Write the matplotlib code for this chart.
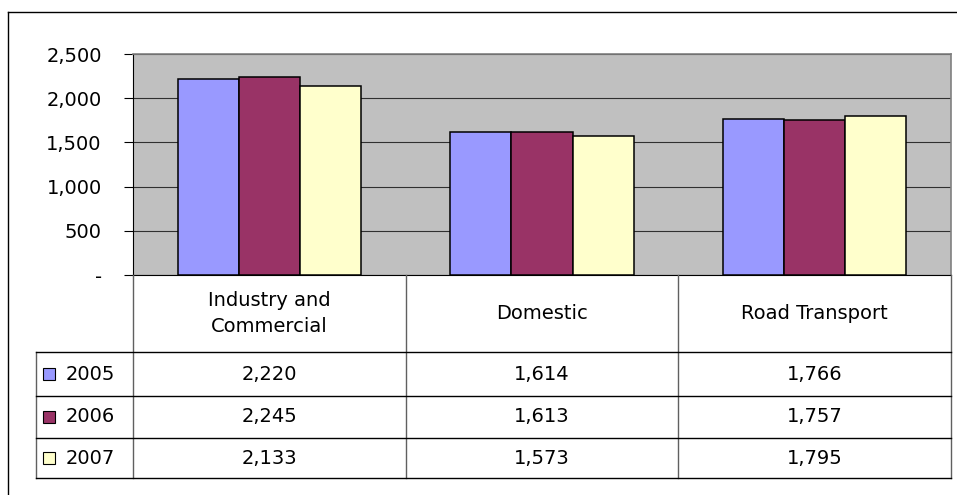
import matplotlib
matplotlib.use("Agg")
import matplotlib.pyplot as plt
from matplotlib.ticker import FuncFormatter
from matplotlib.patches import Rectangle

categories = ["Industry and\nCommercial", "Domestic", "Road Transport"]
years = ["2005", "2006", "2007"]
v2005 = [2220, 1614, 1766]
v2006 = [2245, 1613, 1757]
v2007 = [2133, 1573, 1795]
yticks = [0, 500, 1000, 1500, 2000, 2500]

series = [v2005, v2006, v2007]
colors = ["#9999FF", "#993366", "#FFFFCC"]

W, H = 957, 495
plt.rcParams['font.family'] = ['DejaVu Sans']
fig = plt.figure(figsize=(W / 100, H / 100), dpi=100)
FS = 14

def fx(px):
    return px / W

def fy(py):
    return 1 - py / H

# plot area
left, right, top, bottom = 133, 951, 54, 275
ax = fig.add_axes([fx(left), fy(bottom), fx(right - left), (bottom - top) / H])
ax.set_facecolor("#C0C0C0")
n = len(categories)
bw = 0.224
for i, (vals, c) in enumerate(zip(series, colors)):
    xs = [k + (i - 1) * bw for k in range(n)]
    ax.bar(xs, vals, width=bw, color=c, edgecolor="black", linewidth=1.1, zorder=3)
ax.set_xlim(-0.5, n - 0.5)
ax.set_ylim(0, 2500)
ax.set_yticks(yticks)
ax.yaxis.set_major_formatter(FuncFormatter(lambda v, p: "-" if v == 0 else f"{int(v):,}"))
ax.tick_params(axis="y", length=6.5, width=0.8, pad=16, labelsize=FS, color="black")
ax.set_xticks([])
ax.grid(axis="y", color="#303030", linewidth=0.8, zorder=1)
for s in ["top", "right"]:
    ax.spines[s].set_color("#808080")
    ax.spines[s].set_linewidth(1.2)
ax.spines["left"].set_color("black")
ax.spines["left"].set_linewidth(0.8)
ax.spines["bottom"].set_color("black")
ax.spines["bottom"].set_linewidth(0.8)

# overlay for border
ov = fig.add_axes([0, 0, 1, 1], zorder=-1)
ov.set_xlim(0, W)
ov.set_ylim(H, 0)
ov.axis("off")
ov.plot([8, W], [12, 12], color="black", lw=1.0)
ov.plot([8, 8], [12, H], color="black", lw=1.0)

# table geometry derived from category count
col_w = (right - left) / n
col_edges = [left + k * col_w for k in range(n + 1)]
row_edges = [352, 396, 438, 478]
tab_left = 36

ov2 = fig.add_axes([0, 0, 1, 1], zorder=5)
ov2.set_xlim(0, W)
ov2.set_ylim(H, 0)
ov2.axis("off")
ov2.patch.set_alpha(0)

for xe in col_edges:
    ov2.plot([xe, xe], [bottom, row_edges[-1]], color="#606060", lw=1.0)
ov2.plot([tab_left, tab_left], [row_edges[0], row_edges[-1]], color="#606060", lw=1.0)
for ye in row_edges:
    ov2.plot([tab_left, right], [ye, ye], color="black", lw=1.0)

# header text
for k, cat in enumerate(categories):
    cx = (col_edges[k] + col_edges[k + 1]) / 2
    ov2.text(cx, (bottom + row_edges[0]) / 2 + 0, cat, ha="center", va="center",
             fontsize=FS, linespacing=1.45)

# data rows
for r, (yr, vals, c) in enumerate(zip(years, series, colors)):
    cy = (row_edges[r] + row_edges[r + 1]) / 2
    ov2.add_patch(Rectangle((43, cy - 6), 12, 12, facecolor=c, edgecolor="black", lw=0.8))
    ov2.text(66, cy, yr, ha="left", va="center", fontsize=FS)
    for k, v in enumerate(vals):
        cx = (col_edges[k] + col_edges[k + 1]) / 2
        ov2.text(cx, cy, f"{v:,}", ha="center", va="center", fontsize=FS)

fig.savefig("out.png", dpi=100, facecolor="white")
